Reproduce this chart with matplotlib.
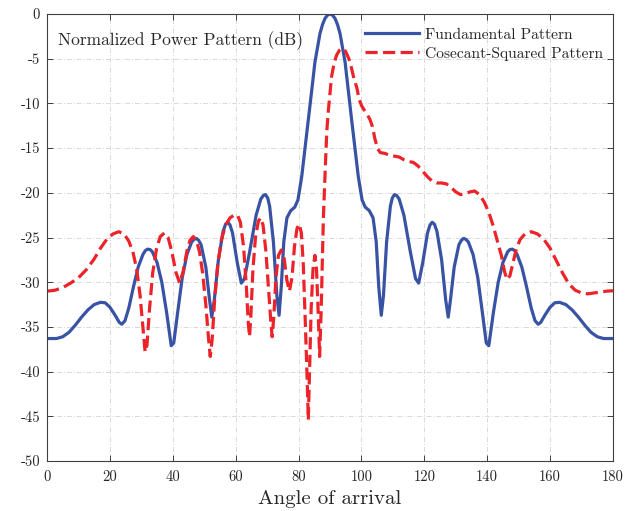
import matplotlib
matplotlib.use("Agg")
import matplotlib.pyplot as plt

# Fundamental pattern (angle in degrees, normalized power in dB)
fund_angle = [0, 3, 5, 7, 9, 11, 13, 15, 17, 18.5, 20, 21.5, 23, 23.8, 24.8, 26,
              27.5, 29, 30.5, 31.3, 32, 32.8, 33.5, 35, 36.5, 38, 39.5, 40.3, 41.5,
              43, 44.5, 46, 46.8, 47.5, 48.2, 49, 50.5, 51.7, 52.4, 53.2, 54.5, 56,
              56.8, 57.5, 58.2, 59, 60.5, 61.8, 62.8, 64.5, 66.5, 68, 68.8, 69.5,
              70.2, 70.8, 72, 73.1, 73.8, 74.5, 75.3, 76.3, 77.5, 78.8, 79.8, 81,
              82, 83.1, 84.2, 85.2, 86.8, 87.6, 88.4, 89.2, 90,
              90.8, 91.6, 92.4, 93.2, 94.8, 95.8, 96.9, 98, 99, 100.2, 101.2, 102.5,
              103.7, 104.7, 105.5, 106.3, 107, 108, 109.2, 109.8, 110.5, 111.2, 112,
              113.5, 115.5, 117.2, 118.2, 119.5, 121, 121.8, 122.5, 123.2, 124,
              125.5, 126.8, 127.6, 128.3, 129.5, 131, 131.8, 132.5, 133.2, 134,
              135.5, 137, 138.5, 139.7, 140.5, 142, 143.5, 145, 146.5, 147.2, 148,
              148.7, 149.5, 151, 152.5, 154, 155.2, 156.2, 157, 158.5, 160, 161.5,
              163, 165, 167, 169, 171, 173, 175, 177, 180]
fund_db = [-36.3, -36.3, -36.1, -35.6, -34.8, -33.9, -33.1, -32.5, -32.25, -32.3,
           -32.8, -33.6, -34.5, -34.7, -34.3, -32.9, -30.5, -28.3, -26.9, -26.45,
           -26.3, -26.35, -26.6, -27.8, -30.0, -33.3, -37.1, -36.8, -33.5, -29.5,
           -26.9, -25.5, -25.2, -25.1, -25.3, -25.8, -28.3, -32.0, -33.9, -32.0,
           -27.5, -24.3, -23.5, -23.3, -23.6, -24.5, -27.8, -30.1, -29.6, -26.5,
           -22.5, -20.7, -20.3, -20.2, -20.6, -21.5, -25.5, -31.5, -33.7, -30.5,
           -25.5, -22.8, -22.0, -21.6, -20.8, -18.2, -15.2, -11.9, -8.5, -5.4,
           -2.2, -1.2, -0.5, -0.13, 0.0,
           -0.13, -0.5, -1.2, -2.2, -5.4, -8.5, -11.9, -15.2, -18.2, -20.8, -21.6,
           -22.0, -22.8, -25.5, -30.5, -33.7, -31.5, -25.5, -21.5, -20.6, -20.2,
           -20.3, -20.7, -22.5, -26.5, -29.6, -30.1, -27.8, -24.5, -23.6, -23.3,
           -23.5, -24.3, -27.5, -32.0, -33.9, -32.0, -28.3, -25.8, -25.3, -25.1,
           -25.2, -25.5, -26.9, -29.5, -33.5, -36.8, -37.1, -33.3, -30.0, -27.8,
           -26.6, -26.35, -26.3, -26.45, -26.9, -28.3, -30.5, -32.9, -34.3, -34.7,
           -34.5, -33.6, -32.8, -32.3, -32.25, -32.5, -33.1, -33.9, -34.8, -35.6,
           -36.1, -36.3, -36.3]

# Cosecant-squared pattern
csc_angle = [0, 2.5, 5, 7.5, 10, 12.5, 15, 17, 19, 21, 22.8, 24.5, 26, 27.3, 28.5,
             29.6, 30.5, 31.2, 31.8, 32.6, 33.6, 34.8, 36, 37.3, 38.5, 39.7, 41,
             42.2, 43.3, 44.5, 45.5, 46.5, 47.5, 48.5, 49.5, 50.5, 51.3, 51.9, 52.5,
             53.3, 54.3, 55.5, 56.8, 58.2, 59.5, 60.6, 61.5, 62.5, 63.4, 64, 64.4,
             64.8, 65.5, 66.3, 67.2, 67.9, 68.7, 69.6, 70.5, 71.2, 71.6, 72.1, 72.8,
             73.6, 74.5, 75.4, 76.3, 77.1, 77.9, 78.7, 79.5, 80.2, 80.9, 81.5, 82.1,
             82.7, 83.1, 83.5, 84.0, 84.6, 85.2, 85.7, 86.2, 86.7, 87.2, 87.6, 87.9,
             88.3, 88.6, 89.0, 89.5, 90.5, 91.3, 92.1, 93.0, 93.5, 94.0, 94.5, 95.0,
             96.0, 96.8, 97.6, 98.5, 99.3, 100.1, 101.0, 101.8, 102.7, 103.5, 104.3,
             105.2, 106.0, 107.5, 109.0, 110.5, 112.0, 113.5, 115.0, 116.5, 118.0,
             119.5, 121.0, 122.5, 124.0, 125.5, 127.0, 128.5, 130.0, 131.5, 133.0,
             134.5, 136.0, 137.5, 139.0, 140.5, 142.0, 143.3, 144.5, 145.5, 146.3,
             147.2, 148.2, 149.3, 150.5, 152.0, 154.0, 156.0, 158.0, 160.0, 162.0,
             164.0, 166.0, 168.0, 170.0, 172.0, 174.0, 176.0, 178.0, 180.0]
csc_db = [-31.0, -30.9, -30.6, -30.1, -29.5, -28.6, -27.4, -26.2, -25.2, -24.6,
          -24.35, -24.6, -25.4, -26.6, -28.5, -31.5, -35.0, -37.8, -37.0, -33.0,
          -29.0, -26.3, -24.9, -24.5, -25.0, -26.6, -28.9, -30.1, -28.8, -26.5,
          -25.3, -24.9, -25.3, -26.6, -29.0, -32.5, -36.0, -38.3, -36.5, -32.0,
          -28.0, -25.2, -23.6, -22.8, -22.5, -22.5, -23.3, -26.0, -30.5, -34.5,
          -36.1, -34.0, -28.5, -25.0, -23.2, -22.8, -23.6, -26.5, -31.0, -34.5,
          -36.1, -34.0, -29.5, -27.0, -26.4, -27.3, -29.8, -31.0, -29.5, -26.0,
          -24.0, -23.5, -24.5, -28.0, -34.0, -40.5, -45.4, -40.0, -33.0, -28.5,
          -27.0, -28.5, -33.0, -38.3, -33.0, -27.0, -22.7, -19.0, -16.3, -13.0,
          -10.7, -7.0, -5.5, -4.6, -4.05, -3.9, -3.85, -3.95, -4.2, -5.0, -6.0,
          -7.2, -8.2, -9.6, -10.3, -10.8, -11.2, -11.8, -12.6, -14.0, -15.1,
          -15.5, -15.6, -15.8, -15.9, -16.0, -16.3, -16.5, -16.6, -17.0, -17.6,
          -18.2, -18.7, -18.9, -18.9, -19.0, -19.4, -19.9, -20.2, -20.1, -19.9,
          -19.8, -20.2, -21.0, -22.2, -23.8, -25.5, -27.0, -28.8, -29.7, -29.3,
          -27.8, -26.2, -25.2, -24.6, -24.35, -24.6, -25.2, -26.2, -27.6, -29.0,
          -30.2, -30.9, -31.2, -31.3, -31.2, -31.1, -31.0, -30.95]

x_ticks = [0, 20, 40, 60, 80, 100, 120, 140, 160, 180]
y_ticks = [0, -5, -10, -15, -20, -25, -30, -35, -40, -45, -50]

plt.rcParams['font.family'] = ['cmr10', 'DejaVu Serif']
plt.rcParams['axes.unicode_minus'] = False

fig = plt.figure(figsize=(6.38, 5.11), dpi=100)
ax = fig.add_axes([0.0737, 0.0978, 0.8871, 0.8748])

ax.plot(fund_angle, fund_db, color='#3953a4', lw=2.3, label='Fundamental Pattern',
        solid_joinstyle='round')
ax.plot(csc_angle, csc_db, color='#ec2329', lw=2.3, dashes=(3.8, 1.7),
        dash_joinstyle='round', label='Cosecant-Squared Pattern')

ax.set_xlim(0, 180)
ax.set_ylim(-50, 0)
ax.set_xticks(x_ticks)
ax.set_xticklabels([str(t) for t in x_ticks])
ax.set_yticks(y_ticks)
ax.set_yticklabels([str(t) for t in y_ticks])
ax.tick_params(direction='in', top=True, right=True, length=4, width=0.6,
               labelsize=10.5, colors='#262626')
ax.tick_params(axis='x', pad=7)
ax.tick_params(axis='y', pad=5)
ax.grid(True, color='#d9d9d9', lw=0.7, linestyle=(0, (5, 2, 1, 2)))
for s in ax.spines.values():
    s.set_color('#404040')
    s.set_linewidth(0.8)

ax.set_xlabel('Angle of arrival', fontsize=15, labelpad=4, color='#262626')
ax.text(0.019, 0.94, 'Normalized Power Pattern (dB)', transform=ax.transAxes,
        fontsize=12.5, va='center', ha='left', color='#262626')

leg = ax.legend(loc='upper left', bbox_to_anchor=(0.545, 0.99), frameon=False,
                fontsize=11.2, handlelength=3.5, handletextpad=0.35,
                labelspacing=0.3, borderaxespad=0.2)
for t in leg.get_texts():
    t.set_color('#262626')

fig.savefig('out.png', dpi=100)
